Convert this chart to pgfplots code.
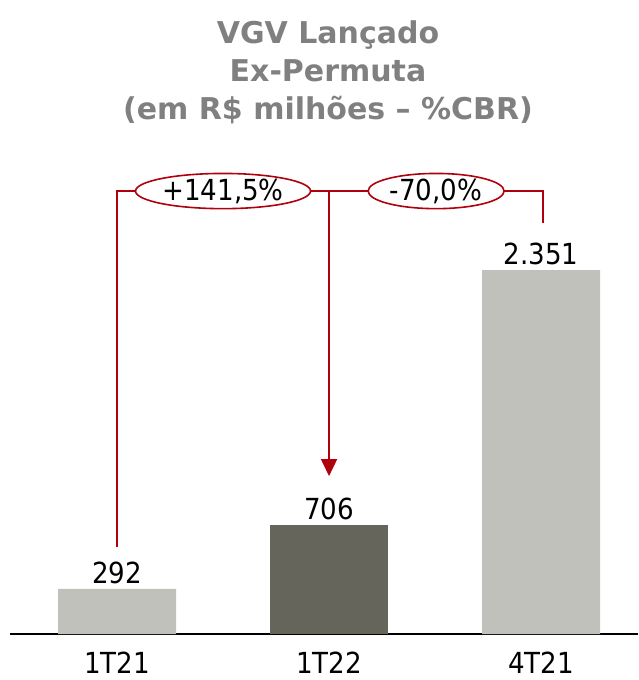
\documentclass[border=0pt]{standalone}
\usepackage{pgfplots}
\pgfplotsset{compat=1.18}
\usetikzlibrary{shapes.geometric,arrows.meta}
\usepackage{fontspec}
\setmainfont{DejaVu Sans Condensed}
\newfontfamily\titlefont{DejaVu Sans}
\definecolor{barlight}{HTML}{C0C1BB}
\definecolor{bardark}{HTML}{66655C}
\definecolor{linered}{HTML}{B0000C}
\definecolor{titlegray}{HTML}{808080}
\begin{document}
\begin{tikzpicture}
\begin{axis}[
  scale only axis, width=628pt, height=484pt,
  xmin=-0.505, xmax=2.457, ymin=0, ymax=3126,
  clip=false,
  hide y axis, axis x line*=bottom,
  x axis line style={-, line width=1.8pt},
  xtick={0,1,2}, xticklabels={1T21,1T22,4T21},
  major tick length=0pt,
  xticklabel style={font=\fontsize{29}{34}\selectfont, inner sep=4pt, yshift=-14pt},
  ybar, bar width=118pt,
  nodes near coords, point meta=explicit symbolic,
  every node near coord/.append style={font=\fontsize{29}{34}\selectfont, inner sep=5pt, text=black},
]
\addplot[fill=barlight, draw=none, bar shift=0pt] coordinates {(0,292) [292] (2,2351) [2.351]};
\addplot[fill=bardark, draw=none, bar shift=0pt] coordinates {(1,706) [706]};
% connectors
\draw[linered, line width=1.6pt] (axis cs:0,562) -- (axis cs:0,2861) -- (axis cs:0.0896,2861);
\draw[linered, line width=1.6pt] (axis cs:0.915,2861) -- (axis cs:1.184,2861);
\draw[linered, line width=1.6pt, -{Triangle[width=16pt,length=17pt]}] (axis cs:1,2861) -- (axis cs:1,1020);
\draw[linered, line width=1.6pt] (axis cs:1.825,2861) -- (axis cs:2.009,2861) -- (axis cs:2.009,2654);
\node[draw=linered, line width=1.6pt, ellipse, minimum width=175pt, minimum height=32pt, inner sep=0pt, font=\fontsize{29}{34}\selectfont] at (axis cs:0.5,2861) {+141,5\%};
\node[draw=linered, line width=1.6pt, ellipse, minimum width=136pt, minimum height=32pt, inner sep=0pt, font=\fontsize{29}{34}\selectfont] at (axis cs:1.505,2861) {-70,0\%};
% title
\node[align=center, font=\titlefont\fontsize{30}{38}\selectfont\bfseries, text=titlegray] at (axis cs:0.995,3630) {VGV Lançado\\Ex-Permuta\\(em R\$ milhões – \%CBR)};
% bounding box
\path (axis cs:-0.552,-297) rectangle (axis cs:2.458,4095);
\end{axis}
\end{tikzpicture}
\end{document}
